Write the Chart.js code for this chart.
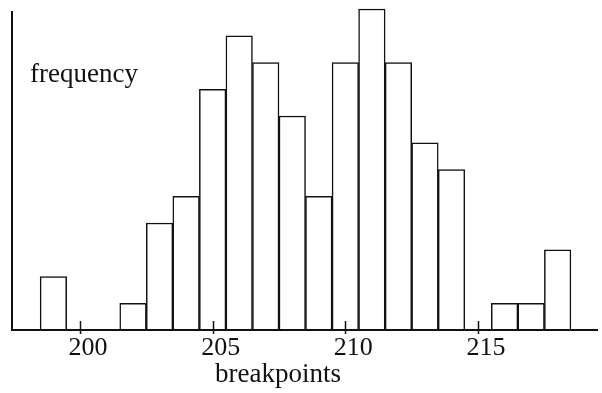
<!DOCTYPE html>
<html>
<head>
<meta charset="utf-8">
<script src="https://cdn.jsdelivr.net/npm/chart.js@4"></script>
<style>
  html, body { margin: 0; padding: 0; background: #fff; }
  #wrap { width: 602px; height: 393px; }
</style>
</head>
<body>
<div id="wrap"><canvas id="histChart" width="602" height="393"></canvas></div>
<script>
// breakpoint bins (bar centres) and their counts
const bins = [199, 202, 203, 204, 205, 206, 207, 208, 209, 210, 211, 212, 213, 214, 216, 217, 218];
const counts = [2, 1, 4, 5, 9, 11, 10, 8, 5, 10, 12, 10, 7, 6, 1, 1, 3];
const tickValues = [200, 205, 210, 215];
const xLabel = 'breakpoints';
const yLabel = 'frequency';

const serif = '"Liberation Serif", "DejaVu Serif", serif';

// axis lines, tick marks and axis labels drawn by hand
const axesPlugin = {
    id: 'axesPlugin',
    afterDatasetsDraw(chart) {
        const { ctx, chartArea } = chart;
        const xs = chart.scales.x;
        const base = chartArea.bottom;
        ctx.save();
        ctx.strokeStyle = '#111';
        ctx.lineWidth = 2;
        ctx.beginPath();
        ctx.moveTo(chartArea.left, 11);
        ctx.lineTo(chartArea.left, base);
        ctx.lineTo(chartArea.right, base);
        ctx.stroke();

        ctx.lineWidth = 1.5;
        tickValues.forEach(v => {
            const px = Math.round(xs.getPixelForValue(v)) + 0.5;
            ctx.beginPath();
            ctx.moveTo(px, base - 9);
            ctx.lineTo(px, base + 4);
            ctx.stroke();
        });

        ctx.fillStyle = '#111';
        ctx.font = '27px ' + serif;
        ctx.textBaseline = 'alphabetic';
        ctx.textAlign = 'left';
        ctx.fillText(yLabel, 30, 82);
        ctx.textAlign = 'center';
        ctx.fillText(xLabel, 278, 382);
        ctx.restore();
    }
};

new Chart(document.getElementById('histChart').getContext('2d'), {
    type: 'bar',
    data: {
        datasets: [{
            data: bins.map((b, i) => ({ x: b, y: counts[i] })),
            backgroundColor: '#fff',
            borderColor: '#111',
            borderWidth: 1.5,
            borderSkipped: 'bottom',
            barPercentage: 1,
            categoryPercentage: 1
        }]
    },
    options: {
        responsive: false,
        animation: false,
        layout: { padding: { left: 12, right: 4, top: 5, bottom: 0 } },
        plugins: { legend: { display: false }, tooltip: { enabled: false } },
        scales: {
            x: {
                type: 'linear',
                offset: false,
                min: 197.44,
                max: 219.52,
                grid: { display: false, offset: false },
                border: { display: false },
                afterBuildTicks: scale => { scale.ticks = tickValues.map(v => ({ value: v })); },
                afterFit: scale => { scale.height = 63; },
                ticks: {
                    color: '#111',
                    font: { family: serif, size: 26 },
                    padding: -5,
                    labelOffset: 8,
                    maxRotation: 0,
                    autoSkip: false
                }
            },
            y: {
                display: false,
                min: 0,
                max: 12.15
            }
        }
    },
    plugins: [axesPlugin]
});
</script>
</body>
</html>
